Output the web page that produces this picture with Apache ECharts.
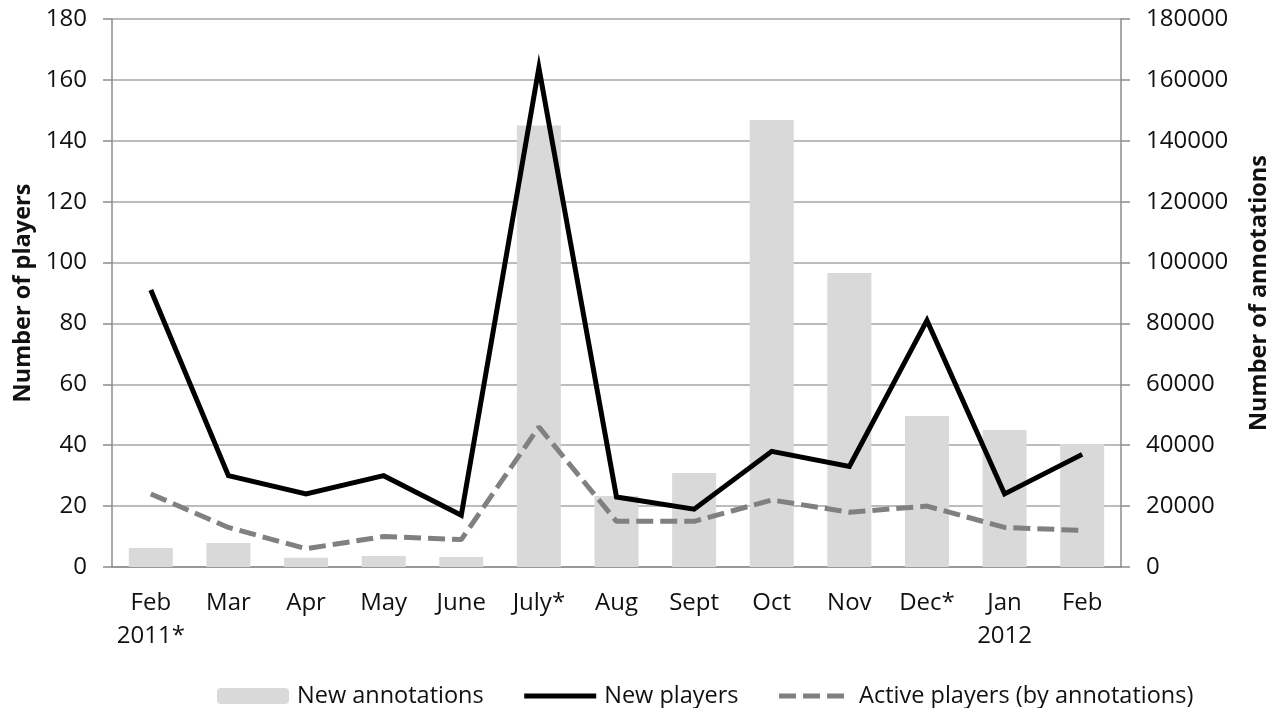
<!DOCTYPE html>
<html>
<head>
<meta charset="utf-8">
<script src="https://cdn.jsdelivr.net/npm/echarts@6/dist/echarts.min.js"></script>
<style>
html,body{margin:0;padding:0;background:#fff;}
#chart{width:1279px;height:708px;}
</style>
</head>
<body>
<div id="chart"></div>
<script>
const categories = ['Feb\n2011*', 'Mar', 'Apr', 'May', 'June', 'July*', 'Aug', 'Sept', 'Oct', 'Nov', 'Dec*', 'Jan\n2012', 'Feb'];
const newAnnotations = [6200, 7900, 3000, 3600, 3300, 145000, 23300, 30900, 146800, 96600, 49600, 45000, 40400];
const newPlayers = [91, 30, 24, 30, 17, 164, 23, 19, 38, 33, 81, 24, 37];
const activePlayers = [24, 13, 6, 10, 9, 46, 15, 15, 22, 18, 20, 13, 12];
const leftTicks = [0, 20, 40, 60, 80, 100, 120, 140, 160, 180];
const rightTicks = [0, 20000, 40000, 60000, 80000, 100000, 120000, 140000, 160000, 180000];

const FONT = '"Open Sans", "Liberation Sans", sans-serif';
const TXT = '#111111';
const chart = echarts.init(document.getElementById('chart'), null, {renderer: 'canvas'});
chart.setOption({
  animation: false,
  backgroundColor: '#ffffff',
  textStyle: {fontFamily: FONT, color: TXT},
  grid: {left: 112, right: 156, top: 19, bottom: 141, containLabel: false},
  legend: {
    top: 684,
    left: 217,
    orient: 'horizontal',
    itemGap: 38,
    itemWidth: 72,
    itemHeight: 16,
    padding: 0,
    textStyle: {fontFamily: FONT, fontSize: 23.5, color: TXT, padding: [0, 0, 0, 3]},
    data: [
      {name: 'New annotations'},
      {name: 'New players',
        itemStyle: {color: 'rgba(0,0,0,0)', borderWidth: 0, opacity: 0},
        lineStyle: {color: '#000000', width: 5, type: 'solid'}},
      {name: 'Active players (by annotations)',
        itemStyle: {color: 'rgba(0,0,0,0)', borderWidth: 0, opacity: 0},
        lineStyle: {color: '#808080', width: 5, type: [17, 7]}}
    ]
  },
  xAxis: {
    type: 'category',
    data: categories,
    axisLine: {lineStyle: {color: '#8c8c8c', width: 1.5}},
    axisTick: {show: false},
    axisLabel: {interval: 0, fontSize: 24, color: TXT, margin: 20, lineHeight: 33, fontFamily: FONT}
  },
  yAxis: [
    {
      type: 'value', min: 0, max: 180, interval: 20,
      name: 'Number of players', nameLocation: 'middle', nameGap: 77, nameRotate: 90,
      nameTextStyle: {fontSize: 23.5, fontWeight: 'bold', color: TXT, fontFamily: FONT},
      axisLine: {show: true, lineStyle: {color: '#8c8c8c', width: 1.5}},
      axisTick: {show: true, inside: false, length: 9, lineStyle: {color: '#8c8c8c', width: 1.5}},
      axisLabel: {fontSize: 24, color: TXT, margin: 25, fontFamily: FONT,
        formatter: v => leftTicks.includes(v) ? String(v) : ''},
      splitLine: {lineStyle: {color: '#a6a6a6', width: 1.5}}
    },
    {
      type: 'value', min: 0, max: 180000, interval: 20000,
      name: 'Number of annotations', nameLocation: 'middle', nameGap: 126, nameRotate: 90,
      nameTextStyle: {fontSize: 23.5, fontWeight: 'bold', color: TXT, fontFamily: FONT},
      axisLine: {show: true, lineStyle: {color: '#8c8c8c', width: 1.5}},
      axisTick: {show: true, inside: false, length: 9, lineStyle: {color: '#8c8c8c', width: 1.5}},
      axisLabel: {fontSize: 24, color: TXT, margin: 25, fontFamily: FONT,
        formatter: v => rightTicks.includes(v) ? String(v) : ''},
      splitLine: {show: false}
    }
  ],
  series: [
    {
      name: 'New annotations', type: 'bar', yAxisIndex: 1,
      data: newAnnotations, barWidth: 44,
      itemStyle: {color: '#d9d9d9'}, z: 1
    },
    {
      name: 'New players', type: 'line', yAxisIndex: 0,
      data: newPlayers, showSymbol: false, symbol: 'circle',
      lineStyle: {color: '#000000', width: 5, join: 'miter'},
      itemStyle: {color: '#000000'}, z: 3
    },
    {
      name: 'Active players (by annotations)', type: 'line', yAxisIndex: 0,
      data: activePlayers, showSymbol: false, symbol: 'circle',
      lineStyle: {color: '#808080', width: 5, type: [17, 7]},
      itemStyle: {color: '#808080'}, z: 2
    }
  ]
});
</script>
</body>
</html>
